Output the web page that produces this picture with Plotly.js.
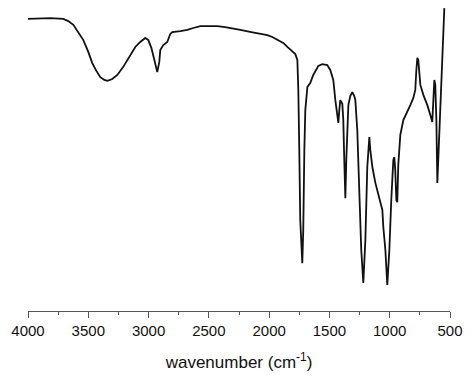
<!DOCTYPE html>
<html>
<head>
<meta charset="utf-8">
<script src="https://cdn.plot.ly/plotly-3.0.1.min.js"></script>
<style>html,body{margin:0;padding:0;background:#fff;}#chart{width:474px;height:384px;}</style>
</head>
<body>
<div id="chart"></div>
<script>
// Wavenumbers (cm^-1)
var wavenumber = [4000,3898,3815,3707,3666,3624,3583,3541,3500,3467,3433,3400,3367,3342,3301,3259,3210,3151,3110,3069,3027,3002,2977,2952,2928,2911,2903,2878,2845,2820,2803,2737,2679,2629,2571,2505,2430,2364,2297,2239,2148,2073,2015,1974,1932,1883,1849,1808,1783,1766,1758,1750,1742,1725,1717,1708,1700,1683,1659,1634,1592,1559,1518,1493,1468,1451,1435,1426,1418,1410,1393,1385,1377,1368,1360,1352,1343,1327,1310,1294,1285,1269,1252,1236,1219,1202,1186,1169,1161,1144,1119,1095,1078,1061,1053,1036,1020,1003,987,970,962,954,945,937,929,912,887,854,829,804,788,779,771,763,754,746,721,688,663,647,638,630,622,613,605,597,580,564,547];
// Transmittance (%)
var transmittance = [93.9,94.05,94.2,93.9,93.2,92.0,89.7,87.1,83.3,79.7,77.2,75.2,74.3,74.0,74.6,75.9,78.5,82.3,84.9,86.5,87.8,87.1,84.6,80.7,76.8,80.1,83.9,85.5,86.5,89.1,89.7,90.0,90.4,91.0,91.6,91.6,91.6,91.3,90.7,90.4,89.7,89.1,88.7,88.1,87.1,86.2,84.9,83.6,82.6,80.7,71.1,51.8,29.3,15.4,26.0,51.8,64.6,72.0,73.3,75.9,78.8,79.4,79.1,77.5,74.3,67.8,62.1,60.5,64.6,67.8,66.6,61.4,48.6,36.3,48.6,61.4,66.2,69.1,70.4,69.1,67.8,58.2,35.7,19.6,9.0,22.8,46.3,55.9,51.8,46.3,41.2,37.9,34.7,32.5,27.0,19.6,8.4,19.6,35.7,48.6,49.5,45.3,35.7,35.0,46.9,56.6,61.4,64.0,66.2,68.5,71.1,77.5,81.4,80.7,75.9,72.7,69.5,66.2,63.0,60.8,67.8,74.3,72.7,61.4,41.2,48.6,61.4,80.7,97.4];
var xTicks = [4000,3500,3000,2500,2000,1500,1000,500];
var xTickText = ["4000","3500","3000","2500","2000","1500","1000","500"];

var trace = {
  x: wavenumber,
  y: transmittance,
  type: 'scatter',
  mode: 'lines',
  line: {color: '#111', width: 1.8},
  hoverinfo: 'skip'
};
var layout = {
  width: 474, height: 384,
  margin: {l: 28, r: 24, t: 0, b: 73},
  paper_bgcolor: '#fff', plot_bgcolor: '#fff',
  showlegend: false,
  font: {family: 'Liberation Sans, Arial, sans-serif', color: '#111', size: 15},
  xaxis: {
    range: [4000, 500],
    autorange: false,
    tickmode: 'array', tickvals: xTicks, ticktext: xTickText,
    ticks: 'outside', ticklen: 6, tickwidth: 1, tickcolor: '#555',
    minor: {dtick: 250, tick0: 0, ticks: 'outside', ticklen: 3, tickwidth: 1, tickcolor: '#555', showgrid: false},
    showline: true, linecolor: '#555', linewidth: 1,
    showgrid: false, zeroline: false,
    tickfont: {size: 15, color: '#111'},
    title: {text: 'wavenumber (cm<sup>-1</sup>)', font: {size: 17, color: '#111'}, standoff: 18}
  },
  yaxis: {
    range: [0, 100], autorange: false,
    visible: false, showgrid: false, zeroline: false
  }
};
Plotly.newPlot('chart', [trace], layout, {displayModeBar: false, staticPlot: true});
</script>
</body>
</html>
